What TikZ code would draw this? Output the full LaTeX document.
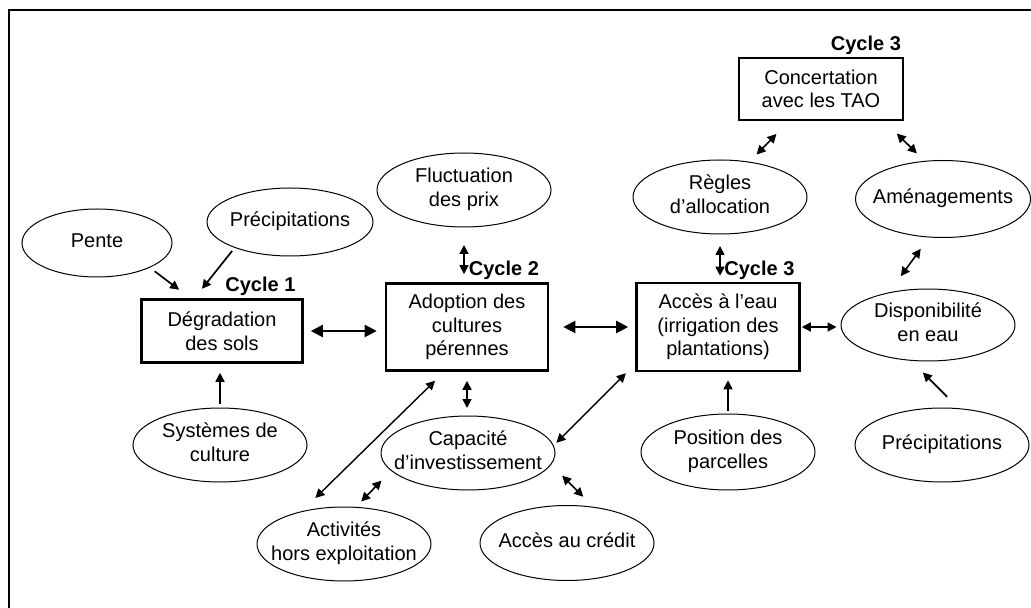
\documentclass[tikz,border=0pt]{standalone}
\usepackage{fontspec}
\setmainfont{Liberation Sans}
\usetikzlibrary{shapes.geometric,arrows.meta}

% text of an ellipse: no width of its own, so the ellipse keeps its size
\newcommand{\etxt}[1]{\makebox[0pt]{\begin{tabular}{@{}c@{}}#1\end{tabular}}}

\begin{document}
\begin{tikzpicture}
  [x=.5pt,y=-.5pt,
   every node/.style={font=\fontsize{10}{11.8}\selectfont,inner sep=0pt},
   box/.style={draw,rectangle,line width=1.3pt,align=center},
   elp/.style={draw,ellipse,line width=.5pt,minimum width=87pt,minimum height=37pt},
   cyc/.style={font=\fontsize{10}{11.8}\selectfont\bfseries,inner sep=1pt,anchor=south east},
   one/.style={-{Triangle[length=4.5pt,width=4.5pt]},line width=.85pt},
   two/.style={{Triangle[length=4.5pt,width=4.5pt]}-{Triangle[length=4.5pt,width=4.5pt]},line width=.8pt},
   thick two/.style={{Triangle[length=6pt,width=6pt]}-{Triangle[length=6pt,width=6pt]},line width=1.1pt}]

  \useasboundingbox (0,0) rectangle (1031,608);
  \clip (0,0) rectangle (1031,608);
  \draw[line width=1pt] (8.5,10) rectangle (1040,620);

  % factors
  \node[elp,minimum width=75pt,minimum height=34pt] (pente) at (97,243)  {\etxt{Pente}};
  \node[elp,minimum width=83pt,minimum height=34pt] (precA) at (290,222) {\etxt{Précipitations}};
  \node[elp] (fluct)  at (464,190) {\etxt{Fluctuation\\des prix}};
  \node[elp] (regles) at (720,197) {\etxt{Règles\\d’allocation}};
  \node[elp,minimum width=87.5pt,minimum height=38.5pt] (amen) at (943,199) {\etxt{Aménagements}};
  \node[elp,minimum height=36pt] (dispo) at (928,325) {\etxt{Disponibilité\\en eau}};
  \node[elp] (syst)   at (220,445) {\etxt{Systèmes de\\culture}};
  \node[elp] (capa)   at (468,453) {\etxt{Capacité\\d’investissement}};
  \node[elp] (activ)  at (344,544) {\etxt{Activités\\hors exploitation}};
  \node[elp,minimum height=37.5pt] (credit) at (567,543) {\etxt{Accès au crédit}};
  \node[elp,minimum height=38pt] (posit) at (728,452) {\etxt{Position des\\parcelles}};
  \node[elp] (precB)  at (942,445) {\etxt{Précipitations}};

  % cycles
  \node[box,minimum width=82pt,minimum height=31pt]     (conc)  at (821,89)  {Concertation\\avec les TAO};
  \node[box,minimum width=80.5pt,minimum height=31.5pt] (degr)  at (222,331) {Dégradation\\des sols};
  \node[box,minimum width=81pt,minimum height=43.5pt]   (adop)  at (467,327) {Adoption des\\cultures\\pérennes};
  \node[box,minimum width=81.5pt,minimum height=44pt]   (acces) at (718,327) {Accès à l’eau\\(irrigation des\\plantations)};

  \node[cyc] (cyc1)  at ([xshift=-3pt]degr.north east)  {Cycle 1};
  \node[cyc] (cyc2)  at ([xshift=-4pt]adop.north east)  {Cycle 2};
  \node[cyc] (cyc3)  at ([xshift=-2pt]acces.north east) {Cycle 3};
  \node[cyc] (cyc3b) at ([xshift=-.5pt]conc.north east) {Cycle 3};

  \draw[thick two,shorten <=3.5pt,shorten >=4pt] (degr.east) -- (degr.east -| adop.west);
  \draw[thick two,shorten <=7pt,shorten >=3.5pt] (adop.east) -- (adop.east -| acces.west);

  \foreach \from/\to/\s/\e in {acces.east/acces.east -| dispo.west/.5/2,
      fluct.south/fluct.south |- adop.north/8.75/4,
      regles.south/regles.south |- acces.north/5.75/3,
      adop.south/adop.south |- capa.north/4.5/3.75,
      activ.72/capa.193/3.7/6.8,
      capa.-8/credit.54/7.8/7.1,
      regles.50/conc.225/5/8.8,
      conc.-27/amen.116/8.7/5.3,
      dispo.140/amen.250/10/7}
    \draw[two,shorten <=\s pt,shorten >=\e pt] (\from) -- (\to);

  \foreach \from/\to/\s/\e in {activ.142/adop.243/9.4/6.4,
      capa.5/acces.204/1.9/6.6}
    \draw[two,line width=.7pt,shorten <=\s pt,shorten >=\e pt] (\from) -- (\to);

  \foreach \from/\to/\s/\e in {pente.-25/degr.134/3/7,
      precA.205/degr.130/2/6,
      syst.north/syst.north |- degr.south/2/4.5,
      posit.north/posit.north |- acces.south/1.5/4,
      precB.66/dispo.245/8/8.2}
    \draw[one,shorten <=\s pt,shorten >=\e pt] (\from) -- (\to);

\end{tikzpicture}
\end{document}
